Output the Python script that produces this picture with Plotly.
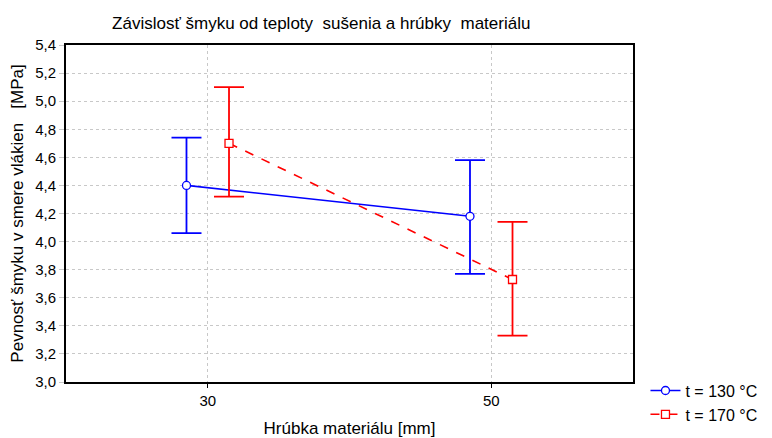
import plotly.graph_objects as go

thickness = [30, 50]
series_names = ["t = 130 °C", "t = 170 °C"]
mean_130 = [4.40, 4.18]
upper_130 = [4.74, 4.58]
lower_130 = [4.06, 3.77]
mean_170 = [4.70, 3.73]
upper_170 = [5.10, 4.14]
lower_170 = [4.32, 3.33]
y_ticks = [3.0, 3.2, 3.4, 3.6, 3.8, 4.0, 4.2, 4.4, 4.6, 4.8, 5.0, 5.2, 5.4]

offset = 1.5
font = "Liberation Sans, Arial, sans-serif"

fig = go.Figure()

def add(mean, up, lo, name, color, symbol, dash, shift):
    fig.add_trace(go.Scatter(
        x=[t + shift for t in thickness], y=mean, name=name,
        mode="lines+markers",
        line=dict(color=color, width=1.6, dash=dash),
        marker=dict(symbol=symbol, size=8, color="white", line=dict(color=color, width=1.3)),
        error_y=dict(type="data", symmetric=False,
                     array=[u - m for u, m in zip(up, mean)],
                     arrayminus=[m - l for m, l in zip(mean, lo)],
                     color=color, thickness=1.8, width=15),
    ))

add(mean_130, upper_130, lower_130, series_names[0], "#0000ff", "circle", "solid", -offset)
add(mean_170, upper_170, lower_170, series_names[1], "#ff0000", "square", "dash", offset)

fig.update_layout(
    width=764, height=430,
    margin=dict(l=58, r=139, t=37, b=56, autoexpand=False),
    paper_bgcolor="white", plot_bgcolor="white",
    font=dict(family=font, size=15, color="black"),
    separators=", ",
    showlegend=True,
    legend=dict(x=1.022, y=0.025, xanchor="left", yanchor="top",
                font=dict(size=16), bgcolor="rgba(0,0,0,0)",
                tracegroupgap=0, itemwidth=30),
    title=dict(text="Závislosť šmyku od teploty  sušenia a hrúbky  materiálu",
               x=0.41, xanchor="center", y=0.965, yanchor="middle",
               font=dict(size=17)),
    xaxis=dict(range=[20, 60], tickvals=thickness, ticktext=[str(t) for t in thickness],
               showgrid=True, gridcolor="#c8c8c8", griddash="dot", gridwidth=1,
               showline=True, linecolor="black", linewidth=2, mirror=True,
               ticks="outside", ticklen=4, tickcolor="black", automargin=False,
               zeroline=False,
               title=dict(text="Hrúbka materiálu [mm]", standoff=17, font=dict(size=17))),
    yaxis=dict(range=[3.0, 5.4], tickvals=y_ticks, tickformat=".1f",
               showgrid=True, gridcolor="#c8c8c8", griddash="dot", gridwidth=1,
               showline=True, linecolor="black", linewidth=2, mirror=True,
               ticks="outside", ticklen=5, tickcolor="#c8c8c8", automargin=False,
               zeroline=False,
               title=dict(text="Pevnosť šmyku v smere vlákien   [MPa]", standoff=7, font=dict(size=17))),
)

fig.write_html("out.html")
